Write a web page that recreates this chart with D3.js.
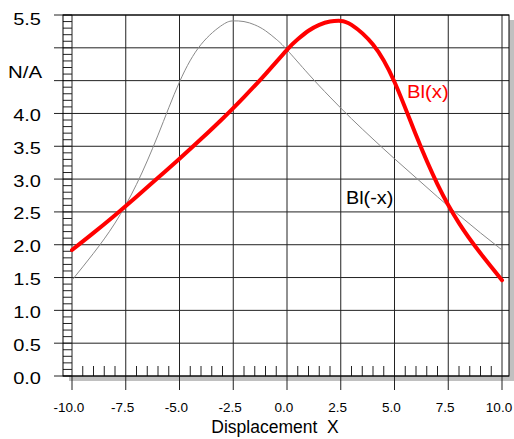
<!DOCTYPE html>
<html>
<head>
<meta charset="utf-8">
<script src="https://cdn.jsdelivr.net/npm/d3@7"></script>
<style>
  html, body { margin: 0; padding: 0; background: #fff; }
  svg { display: block; }
  text { font-family: "Liberation Sans", Arial, sans-serif; }
</style>
</head>
<body>
<svg id="chart" width="514" height="439"></svg>
<script>
// ---- data ----
const blX  = [-10, -9, -8, -7, -6, -5, -4, -3, -2, -1, 0, 0.5, 1, 1.5, 2, 2.5, 3, 4, 5, 6, 7, 8, 9, 10];
const blY  = [1.92, 2.18, 2.45, 2.73, 3.02, 3.31, 3.61, 3.92, 4.25, 4.60, 4.97, 5.13, 5.26, 5.35, 5.40, 5.41, 5.35, 5.05, 4.48, 3.67, 2.92, 2.33, 1.87, 1.46];
const blMX = [-10, -9, -8, -7, -6, -5, -4, -3, -2.5, -2, -1.5, -1, -0.5, 0, 1, 2, 3, 4, 5, 6, 7, 8, 9, 10];
const blMY = [1.46, 1.87, 2.33, 2.92, 3.67, 4.48, 5.05, 5.35, 5.41, 5.40, 5.35, 5.26, 5.13, 4.97, 4.60, 4.25, 3.92, 3.61, 3.31, 3.02, 2.73, 2.45, 2.18, 1.92];
const xTicks = [-10, -7.5, -5, -2.5, 0, 2.5, 5, 7.5, 10];
const xTickLabels = ["-10.0", "-7.5", "-5.0", "-2.5", "0.0", "2.5", "5.0", "7.5", "10.0"];
const yTicks = [0, 0.5, 1, 1.5, 2, 2.5, 3, 3.5, 4, 4.5, 5, 5.5];
const yTickLabels = ["0.0", "0.5", "1.0", "1.5", "2.0", "2.5", "3.0", "3.5", "4.0", "", "", "5.5"];
const xTitle = "Displacement  X";
const yTitle = "N/A";
const seriesNames = ["Bl(x)", "Bl(-x)"];

// ---- layout ----
const svg = d3.select("#chart");
const x = d3.scaleLinear().domain([-10, 10]).range([72, 502]);
const y = d3.scaleLinear().domain([0, 5.5]).range([376, 15]);
const frameL = 63, frameR = 509, frameT = y(5.5), frameB = y(0);

// shadow
svg.append("rect")
  .attr("x", frameL + 6).attr("y", frameT + 5)
  .attr("width", frameR - frameL).attr("height", frameB - frameT)
  .attr("fill", "#c0c0c0");
svg.append("rect")
  .attr("x", frameL).attr("y", frameT)
  .attr("width", frameR - frameL).attr("height", frameB - frameT)
  .attr("fill", "#fff");

const grid = svg.append("g").attr("stroke", "#222").attr("stroke-width", 1).attr("fill", "none");

// horizontal grid lines (extend left as ticks)
grid.selectAll("line.h").data(yTicks).join("line")
  .attr("x1", 54).attr("x2", frameR)
  .attr("y1", d => y(d)).attr("y2", d => y(d));

// vertical grid lines (extend below as ticks)
grid.selectAll("line.v").data(xTicks).join("line")
  .attr("x1", d => x(d)).attr("x2", d => x(d))
  .attr("y1", frameT).attr("y2", 390);

// minor x ticks
const minorX = d3.range(-10, 10.001, 0.5).filter(v => Math.abs(v / 2.5 - Math.round(v / 2.5)) > 1e-6);
grid.selectAll("line.mx").data(minorX).join("line")
  .attr("x1", d => x(d)).attr("x2", d => x(d))
  .attr("y1", frameB - 10).attr("y2", frameB);

// left ruler strip
const minorY = d3.range(0, 5.5001, 0.1);
grid.selectAll("line.my").data(minorY).join("line")
  .attr("x1", frameL).attr("x2", x(-10))
  .attr("y1", d => y(d)).attr("y2", d => y(d));

// frame
grid.append("rect")
  .attr("x", frameL).attr("y", frameT)
  .attr("width", frameR - frameL).attr("height", frameB - frameT)
  .attr("stroke", "#000");

// curves
const line = d3.line().x(d => x(d[0])).y(d => y(d[1])).curve(d3.curveNatural);
svg.append("path")
  .datum(d3.zip(blMX, blMY))
  .attr("d", line)
  .attr("fill", "none").attr("stroke", "#8a8a8a").attr("stroke-width", 1);
svg.append("path")
  .datum(d3.zip(blX, blY))
  .attr("d", line)
  .attr("fill", "none").attr("stroke", "#ff0000").attr("stroke-width", 4)
  .attr("stroke-linecap", "round").attr("stroke-linejoin", "round");

// y tick labels (horizontally widened font, as in the reference)
const yl = svg.append("g");
yTicks.forEach((d, i) => {
  if (!yTickLabels[i]) return;
  const by = i === yTicks.length - 1 ? y(d) + 10 : y(d) + 7.5;
  yl.append("text")
    .attr("transform", `translate(41,${by}) scale(1.25,1)`)
    .attr("text-anchor", "end")
    .attr("font-size", 16)
    .text(yTickLabels[i]);
});

// y title
svg.append("text")
  .attr("transform", "translate(42,78) scale(1.2,1)")
  .attr("text-anchor", "end")
  .attr("font-size", 17).text(yTitle);

// x tick labels
svg.selectAll("text.xl").data(xTicks).join("text")
  .attr("x", d => x(d) - 3).attr("y", 412)
  .attr("text-anchor", "middle")
  .attr("font-size", 13.5)
  .text((d, i) => xTickLabels[i]);

// x title
svg.append("text").attr("x", 275).attr("y", 433).attr("text-anchor", "middle")
  .attr("font-size", 17.5).attr("xml:space", "preserve").style("white-space", "pre")
  .text(xTitle);

// series labels
svg.append("text").attr("transform", "translate(407,98) scale(1.1,1)").attr("font-size", 18.5)
  .attr("fill", "#ff0000").text(seriesNames[0]);
svg.append("text").attr("transform", "translate(346,204) scale(1.1,1)").attr("font-size", 18)
  .attr("fill", "#000").text(seriesNames[1]);
</script>
</body>
</html>
